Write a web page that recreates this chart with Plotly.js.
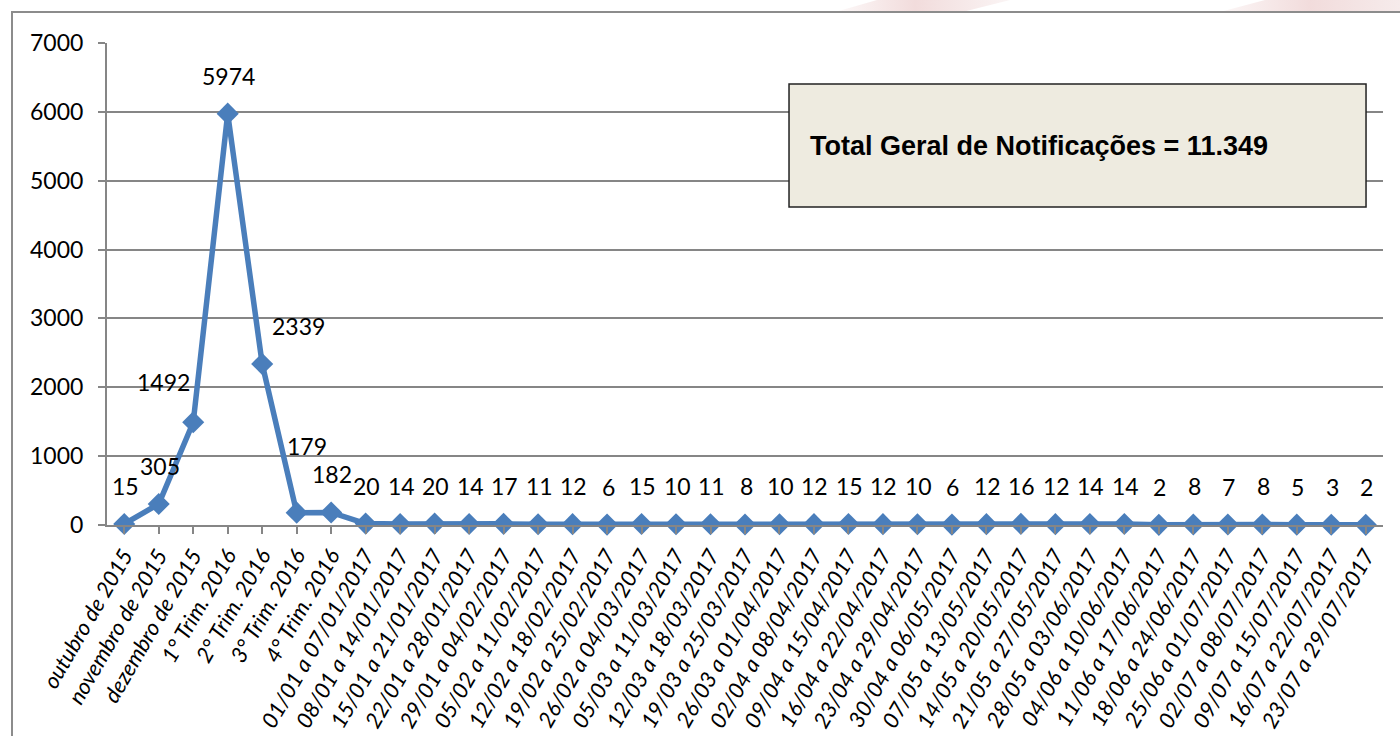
<!DOCTYPE html>
<html>
<head>
<meta charset="utf-8">
<script src="https://cdn.plot.ly/plotly-3.0.1.min.js"></script>
<style>
  html, body { margin: 0; padding: 0; background: #ffffff; width: 1400px; height: 736px; overflow: hidden; }
  #frame { position: absolute; left: 11px; top: 11px; width: 1500px; height: 800px; border: 2px solid #8c8c8c; box-sizing: border-box; }
  .swoosh { position: absolute; top: 0; height: 12px; }
  #chart { position: absolute; left: 0; top: 0; width: 1400px; height: 736px; }
</style>
</head>
<body>
<div class="swoosh" style="left:820px;width:190px;background:linear-gradient(90deg,rgba(236,205,205,0.0),rgba(236,205,205,0.7),rgba(240,220,220,0.3));clip-path:polygon(8% 100%,30% 0,100% 0,75% 100%);"></div>
<div class="swoosh" style="left:1220px;width:180px;background:linear-gradient(90deg,rgba(240,215,215,0.2),rgba(236,205,205,0.7),rgba(240,222,222,0.6));clip-path:polygon(0 100%,25% 0,100% 0,100% 100%);"></div>
<div id="frame"></div>
<div id="chart"></div>
<script>
const categories = [
  "outubro de 2015", "novembro de 2015", "dezembro de 2015",
  "1° Trim. 2016", "2° Trim. 2016", "3° Trim. 2016", "4° Trim. 2016",
  "01/01 a 07/01/2017", "08/01 a 14/01/2017", "15/01 a 21/01/2017", "22/01 a 28/01/2017",
  "29/01 a 04/02/2017", "05/02 a 11/02/2017", "12/02 a 18/02/2017", "19/02 a 25/02/2017",
  "26/02 a 04/03/2017", "05/03 a 11/03/2017", "12/03 a 18/03/2017", "19/03 a 25/03/2017",
  "26/03 a 01/04/2017", "02/04 a 08/04/2017", "09/04 a 15/04/2017", "16/04 a 22/04/2017",
  "23/04 a 29/04/2017", "30/04 a 06/05/2017", "07/05 a 13/05/2017", "14/05 a 20/05/2017",
  "21/05 a 27/05/2017", "28/05 a 03/06/2017", "04/06 a 10/06/2017", "11/06 a 17/06/2017",
  "18/06 a 24/06/2017", "25/06 a 01/07/2017", "02/07 a 08/07/2017", "09/07 a 15/07/2017",
  "16/07 a 22/07/2017", "23/07 a 29/07/2017"
];
const notificacoes = [
  15, 305, 1492, 5974, 2339, 179, 182,
  20, 14, 20, 14, 17, 11, 12, 6, 15, 10, 11, 8, 10, 12, 15, 12, 10, 6, 12, 16, 12, 14, 14, 2, 8, 7, 8, 5, 3, 2
];
const yTicks = [0, 1000, 2000, 3000, 4000, 5000, 6000, 7000];
const totalText = "Total Geral de Notificações = 11.349";

// label offsets in pixels (style only): default above the point
const labelShiftX = {2: -31, 4: 35, 5: 9};
const labelShiftY = {2: 39, 5: 66};

const idx = categories.map((c, i) => i);

const trace = {
  x: idx,
  y: notificacoes,
  type: 'scatter',
  mode: 'lines+markers',
  line: {color: '#4a7ebb', width: 5.5},
  marker: {symbol: 'diamond', size: 17, color: '#4a7ebb'},
  hoverinfo: 'x+y',
  cliponaxis: false
};

const labelFont = {family: 'Lato, "Open Sans", sans-serif', size: 23, color: '#000000'};

const annotations = notificacoes.map((v, i) => ({
  x: i, y: v, xref: 'x', yref: 'y',
  text: String(v),
  showarrow: false,
  xanchor: 'center', yanchor: 'middle',
  xshift: 1 + (labelShiftX[i] || 0),
  yshift: 38 + (labelShiftY[i] ? labelShiftY[i] - 37 : 0),
  font: labelFont
}));

annotations.push({
  x: 0.5494, y: 0.786, xref: 'paper', yref: 'paper',
  text: '<b>' + totalText + '</b>',
  showarrow: false, xanchor: 'left', yanchor: 'middle',
  font: {family: '"Liberation Sans", Arial, sans-serif', size: 27, color: '#000000'}
});

const layout = {
  width: 1400, height: 736,
  margin: {l: 107, r: 17, t: 43, b: 211, pad: 0},
  paper_bgcolor: 'rgba(0,0,0,0)',
  plot_bgcolor: 'rgba(0,0,0,0)',
  showlegend: false,
  xaxis: {
    type: 'linear',
    range: [-0.5, categories.length - 0.5],
    tickmode: 'array',
    tickvals: idx,
    ticktext: categories,
    tickangle: -60,
    ticks: 'outside', ticklen: 7, tickwidth: 2, tickcolor: '#868686',
    tickson: 'boundaries',
    showline: true, linecolor: '#868686', linewidth: 2,
    showgrid: false, zeroline: false,
    tickfont: {family: 'Lato, "Open Sans", sans-serif', size: 22, color: '#000000', style: 'italic'},
    fixedrange: true
  },
  yaxis: {
    range: [0, 7000],
    tickmode: 'array',
    tickvals: yTicks,
    ticktext: yTicks.map(String),
    ticks: 'outside', ticklen: 7, tickwidth: 2, tickcolor: '#868686',
    ticklabelstandoff: 10,
    showline: true, linecolor: '#868686', linewidth: 2,
    showgrid: true, gridcolor: '#868686', gridwidth: 2,
    zeroline: false,
    tickfont: {family: 'Lato, "Open Sans", sans-serif', size: 23, color: '#000000'},
    fixedrange: true
  },
  shapes: [{
    type: 'rect', xref: 'paper', yref: 'paper',
    x0: 0.5345, x1: 0.9867, y0: 0.6598, y1: 0.9149,
    fillcolor: '#eeebe0', line: {color: '#222222', width: 1.5},
    layer: 'above'
  }],
  annotations: annotations
};

Plotly.newPlot('chart', [trace], layout, {displayModeBar: false, staticPlot: true});
</script>
</body>
</html>
